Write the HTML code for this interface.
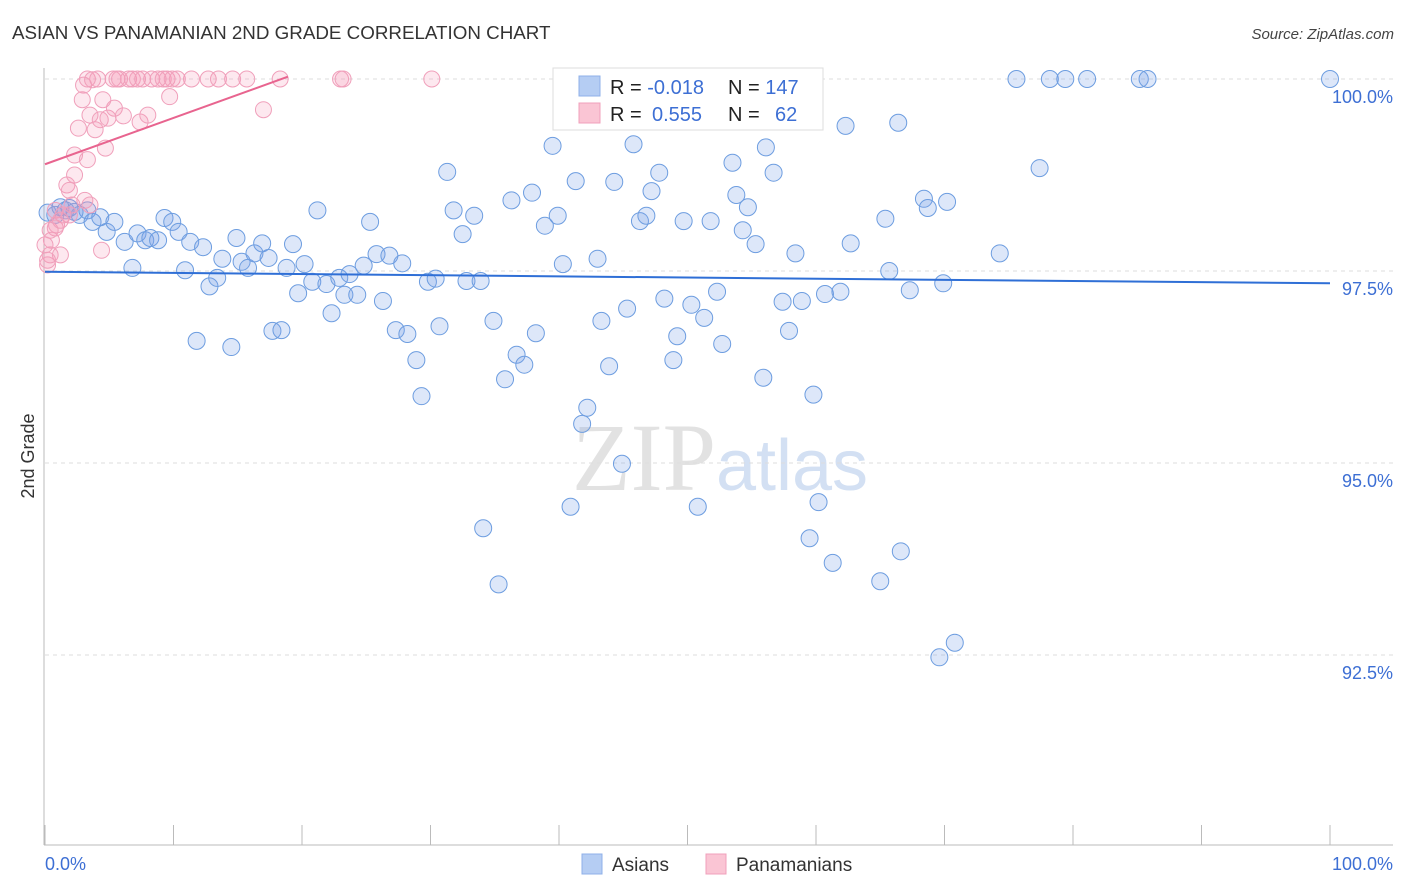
<!DOCTYPE html>
<html><head><meta charset="utf-8"><style>
body{margin:0;background:#fff;font-family:"Liberation Sans",sans-serif;}
svg{display:block}
</style></head><body>
<svg id="chart" width="1406" height="892" xmlns="http://www.w3.org/2000/svg">
<text x="12" y="39" font-size="18.8" fill="#333">ASIAN VS PANAMANIAN 2ND GRADE CORRELATION CHART</text>
<text x="1394" y="39" font-size="15" fill="#444" text-anchor="end" font-style="italic">Source: ZipAtlas.com</text>
<text x="720" y="490" font-size="96" text-anchor="middle" fill="#e2e2e2" font-family="Liberation Serif, serif">ZIP<tspan fill="#d3e0f3" font-family="Liberation Sans, sans-serif" font-size="72">atlas</tspan></text>
<g id="grid"></g><g id="axes"></g><g id="pts"></g><g id="trend"></g>
<text transform="translate(34,456) rotate(-90)" font-size="18" fill="#333" text-anchor="middle">2nd Grade</text>
<g>
<rect x="553" y="68" width="270" height="62" fill="#fff" stroke="#ddd"/>
<rect x="579" y="76" width="21" height="20" fill="#b5cdf3" stroke="#8fb0e8"/>
<rect x="579" y="103" width="21" height="20" fill="#fac5d4" stroke="#f0a0bb"/>
<text x="610" y="94" font-size="20" fill="#222">R = <tspan fill="#3d6fd4">-0.018</tspan></text>
<text x="728" y="94" font-size="20" fill="#222">N = <tspan fill="#3d6fd4">147</tspan></text>
<text x="610" y="121" font-size="20" fill="#222">R = <tspan fill="#3d6fd4" x="652">0.555</tspan></text>
<text x="728" y="121" font-size="20" fill="#222">N = <tspan fill="#3d6fd4" x="775">62</tspan></text>
</g>
<g>
<rect x="582" y="854" width="20" height="20" fill="#b5cdf3" stroke="#8fb0e8"/>
<text x="612" y="871" font-size="19" fill="#333">Asians</text>
<rect x="706" y="854" width="20" height="20" fill="#fac5d4" stroke="#f0a0bb"/>
<text x="736" y="871" font-size="19" fill="#333">Panamanians</text>
</g>
</svg>
<script>
const yTicks=[100,97.5,95,92.5];
const yTickLabels=["100.0%","97.5%","95.0%","92.5%"];
const asianX=[0.2,0.8,1.2,1.6,1.9,2.7,3.3,3.7,4.3,4.8,5.4,6.2,6.8,7.2,7.8,8.2,8.8,9.3,9.9,10.4,10.9,11.3,11.8,12.3,12.8,13.4,13.8,14.5,14.9,15.3,15.8,16.3,16.9,17.4,17.7,18.4,18.8,19.3,19.7,20.2,20.8,21.2,21.9,22.3,22.9,23.3,23.7,24.3,24.8,25.3,25.8,26.3,26.8,27.3,27.8,28.2,28.9,29.3,29.8,30.4,30.7,31.3,31.8,32.5,32.8,33.4,33.9,34.1,34.9,35.3,35.8,36.3,36.7,37.3,37.9,38.2,38.9,39.5,39.9,40.3,40.9,41.3,41.8,42.2,43.0,43.3,43.9,44.3,44.9,45.3,45.8,46.3,46.8,47.2,47.8,48.2,48.9,49.2,49.7,50.3,50.8,51.3,51.8,52.3,52.7,53.5,53.8,54.3,54.7,55.3,55.9,56.1,56.7,57.4,57.9,58.4,58.9,59.5,59.8,60.2,60.7,61.3,61.9,62.3,62.7,65.0,65.4,65.7,66.4,66.6,67.3,68.4,68.7,69.6,69.9,70.2,70.8,74.3,75.6,77.4,78.2,79.4,81.1,85.2,85.8,100,2.3];
const asianY=[98.26,98.23,98.33,98.29,98.32,98.23,98.29,98.14,98.20,98.01,98.14,97.88,97.54,97.99,97.90,97.93,97.90,98.19,98.14,98.01,97.51,97.88,96.59,97.81,97.30,97.41,97.66,96.51,97.93,97.62,97.54,97.73,97.86,97.67,96.72,96.73,97.54,97.85,97.21,97.59,97.36,98.29,97.33,96.95,97.41,97.19,97.46,97.19,97.57,98.14,97.72,97.11,97.70,96.73,97.60,96.68,96.34,95.87,97.36,97.40,96.78,98.79,98.29,97.98,97.37,98.22,97.37,94.15,96.85,93.42,96.09,98.42,96.41,96.28,98.52,96.69,98.09,99.13,98.22,97.59,94.43,98.67,95.51,95.72,97.66,96.85,96.26,98.66,94.99,97.01,99.15,98.15,98.22,98.54,98.78,97.14,96.34,96.65,98.15,97.06,94.43,96.89,98.15,97.23,96.55,98.91,98.49,98.03,98.33,97.85,96.11,99.11,98.78,97.10,96.72,97.73,97.11,94.02,95.89,94.49,97.20,93.70,97.23,99.39,97.86,93.46,98.18,97.50,99.43,93.85,97.25,98.44,98.32,92.47,97.34,98.40,92.66,97.73,100,98.84,100,100,100,100,100,100,98.27];
const panX=[0.2,0.4,0.5,0.8,0.9,1.2,1.4,1.7,1.9,2.1,2.3,2.3,2.6,2.9,3.0,3.3,3.3,3.5,3.7,3.9,4.1,4.3,4.4,4.5,4.7,4.9,5.3,5.4,5.6,5.8,6.1,6.5,6.8,7.2,7.4,7.6,8.0,8.3,8.8,9.2,9.5,9.7,9.9,10.3,11.4,12.7,13.5,14.6,15.7,17.0,18.3,23.0,23.2,30.1,0.4,0.8,1.2,1.9,3.1,3.5,0,0.2];
const panY=[97.58,97.71,97.90,98.06,98.10,97.71,98.23,98.62,98.55,98.36,99.01,98.75,99.36,99.73,99.92,98.95,100,99.53,99.99,99.34,100,99.47,97.77,99.73,99.10,99.49,100,99.62,100,100,99.52,100,100,100,99.44,100,99.53,100,100,100,100,99.77,100,100,100,100,100,100,100,99.60,100,100,100,100,98.03,98.29,98.16,98.23,98.42,98.36,97.84,97.64];
const asianTrend=[[0,97.49],[100,97.34]];
const panTrend=[[0,98.89],[18.9,100.03]];
const NS="http://www.w3.org/2000/svg";
const xs=v=>45+v*12.85;
const ys=v=>79+(100-v)*76.8;
function mk(tag,attrs,parent){const e=document.createElementNS(NS,tag);for(const k in attrs)e.setAttribute(k,attrs[k]);document.getElementById(parent).appendChild(e);return e;}
yTicks.forEach((t,i)=>{
 const l=mk('line',{x1:45,x2:1393,y1:ys(t),y2:ys(t),stroke:'#ddd','stroke-dasharray':'4,4'},'grid');
 
 
 const tx=mk('text',{x:1393,y:ys(t)+24,'font-size':18,fill:'#3d6fd4','text-anchor':'end'},'grid');
 tx.textContent=yTickLabels[i];
 
 
});
const ax=mk('line',{x1:44,x2:44,y1:68,y2:845,stroke:'#bbb'},'axes');


const bx=mk('line',{x1:44,x2:1393,y1:845,y2:845,stroke:'#bbb'},'axes');


for(let i=0;i<=10;i++){
 const t=mk('line',{x1:xs(i*10),x2:xs(i*10),y1:825,y2:845,stroke:'#bbb'},'axes');
 
 
}
[[0,"0.0%","start",45],[100,"100.0%","end",1393]].forEach(a=>{
 const t=mk('text',{x:a[3],y:870,'font-size':18,fill:'#3d6fd4','text-anchor':a[2]},'axes');
 t.textContent=a[1];
 
 
});
asianX.forEach((x,i)=>{
 const c=mk('circle',{cx:xs(x),cy:ys(asianY[i]),r:8.5,fill:'rgba(120,160,230,0.25)',stroke:'#6d9de0','stroke-width':1},'pts');
 
 
});
panX.forEach((x,i)=>{
 const c=mk('circle',{cx:xs(x),cy:ys(panY[i]),r:8,fill:'rgba(245,150,180,0.22)',stroke:'#f0a0bb','stroke-width':1},'pts');
 
 
});
const t1=mk('line',{x1:xs(asianTrend[0][0]),y1:ys(asianTrend[0][1]),x2:xs(asianTrend[1][0]),y2:ys(asianTrend[1][1]),stroke:'#2f6fd6','stroke-width':2},'trend');


const t2=mk('line',{x1:xs(panTrend[0][0]),y1:ys(panTrend[0][1]),x2:xs(panTrend[1][0]),y2:ys(panTrend[1][1]),stroke:'#e8648f','stroke-width':2},'trend');


</script>
</body></html>
